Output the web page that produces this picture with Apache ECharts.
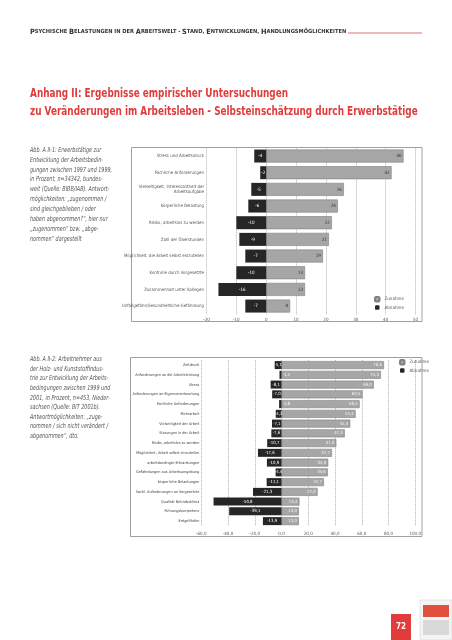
<!DOCTYPE html>
<html><head><meta charset="utf-8">
<script src="https://cdn.jsdelivr.net/npm/echarts/dist/echarts.min.js"></script>
<style>html,body{margin:0;padding:0;background:#fff}#c{width:452px;height:640px}</style>
</head><body><div id="c"></div>
<script>
// ---------- Chart 1 data ----------
const cats1 = [
  'Stress und Arbeitsdruck',
  'Fachliche Anforderungen',
  'Vielseitigkeit, Interessantheit der\nArbeitsaufgabe',
  'Körperliche Belastung',
  'Risiko, arbeitslos zu werden',
  'Zahl der Überstunden',
  'Möglichkeit, die Arbeit selbst einzuteilen',
  'Kontrolle durch Vorgesetzte',
  'Zusammenhalt unter Kollegen',
  'Unfallgefahr/Gesundheitliche Gefährdung'
];
const inc1 = [46, 42, 26, 24, 22, 21, 19, 13, 13, 8];
const dec1 = [-4, -2, -5, -6, -10, -9, -7, -10, -16, -7];
const axis1Min = -20, axis1Max = 50, axis1Step = 10;

// ---------- Chart 2 data ----------
const cats2 = [
  'Zeitdruck',
  'Anforderungen an die Arbeitsleistung',
  'Stress',
  'Anforderungen an Eigenverantwortung',
  'Fachliche Anforderungen',
  'Mehrarbeit',
  'Vielseitigkeit der Arbeit',
  'Störungen in der Arbeit',
  'Risiko, arbeitslos zu werden',
  'Möglichkeit, Arbeit selbst einzuteilen',
  'arbeitsbedingte Erkrankungen',
  'Gefährdungen aus Arbeitsumgebung',
  'körperliche Belastungen',
  'Sachl. Anforderungen an Vorgesetzte',
  'Qualität Betriebsklima',
  'Führungskompetenz',
  'Entgelthöhe'
];
const inc2 = [76.6, 74.3, 69.0, 60.5, 58.4, 55.4, 51.4, 47.3, 41.0, 37.7, 34.9, 34.6, 31.7, 27.0, 13.4, 13.0, 13.0];
const dec2 = [-5.1, -1.5, -8.1, -7.0, -1.8, -4.3, -7.1, -7.6, -10.7, -17.6, -10.9, -4.4, -11.1, -21.3, -50.8, -39.1, -13.9];
const axis2Min = -60, axis2Max = 100, axis2Step = 20;

// ---------- helpers ----------
const comma = v => v.toFixed(1).replace('.', ',');
function smallCaps(s){
  let out = '', cur = null, buf = '';
  for (const ch of s){
    const t = (ch !== ch.toLowerCase()) ? 'b' : 's';
    if (t !== cur){ if (buf) out += '{' + cur + '|' + buf + '}'; buf = ''; cur = t; }
    buf += ch.toUpperCase();
  }
  if (buf) out += '{' + cur + '|' + buf + '}';
  return out;
}
const NARROW = "'Liberation Sans Narrow','DejaVu Sans Condensed','Roboto',sans-serif";
const GRAY = '#a6a6a6', GRAYB = '#7f7f7f', DARK = '#262626';

const chart = echarts.init(document.getElementById('c'), null, {renderer:'canvas'});

const catAxis = (idx, data, margin, color, fs) => ({
  type:'category', gridIndex: idx, data, inverse:true,
  axisLine:{show:false}, axisTick:{show:false},
  axisLabel:{fontSize:fs, lineHeight:5.5, color, margin, fontFamily:NARROW}
});
const valAxis = (idx, min, max, step, fmt, margin) => ({
  type:'value', gridIndex: idx, min, max, interval: step,
  axisLine:{show:false}, axisTick:{show:false},
  splitLine:{show:true, lineStyle:{type:'dotted', color:'#b0b0b0', width:1}},
  axisLabel:{fontSize:4.5, color:'#595959', margin, fontFamily:NARROW, formatter: fmt}
});

const option = {
  animation:false,
  grid:[
    {left:206.5, width:209, top:147.7, height:166.7, containLabel:false},
    {left:201.25, width:214, top:360.2, height:165.8, containLabel:false}
  ],
  xAxis:[
    valAxis(0, axis1Min, axis1Max, axis1Step, v => String(v), 3),
    valAxis(1, axis2Min, axis2Max, axis2Step, v => comma(v), 5)
  ],
  yAxis:[
    catAxis(0, cats1, 2.5, '#595959', 4.4),
    catAxis(1, cats2, 2, '#404040', 3.8)
  ],
  legend:[
    {data:['Zunahme','Abnahme'], orient:'vertical', left:374, top:296, itemWidth:4.5, itemHeight:4.5, itemGap:2.5, padding:0,
     textStyle:{fontSize:4.5, color:'#595959', fontFamily:NARROW}, selectedMode:false},
    {data:['Zunahme','Abnahme'], orient:'vertical', left:399, top:359, itemWidth:4.5, itemHeight:4.5, itemGap:2.5, padding:0,
     textStyle:{fontSize:4.5, color:'#595959', fontFamily:NARROW}, selectedMode:false}
  ],
  series:[
    {name:'Zunahme', type:'bar', xAxisIndex:0, yAxisIndex:0, data:inc1, barWidth:13, barGap:'-100%',
     itemStyle:{color:GRAY, borderColor:GRAYB, borderWidth:0.6},
     label:{show:true, position:'insideRight', fontSize:4.5, color:'#333', fontFamily:NARROW, distance:2}},
    {name:'Abnahme', type:'bar', xAxisIndex:0, yAxisIndex:0, data:dec1, barWidth:13, barGap:'-100%',
     itemStyle:{color:DARK},
     label:{show:true, position:'inside', fontSize:4.5, color:'#fff', fontFamily:NARROW}},
    {name:'Zunahme', type:'bar', xAxisIndex:1, yAxisIndex:1, data:inc2, barWidth:8, barGap:'-100%',
     itemStyle:{color:GRAY, borderColor:GRAYB, borderWidth:0.6},
     label:{show:true, position:'insideRight', fontSize:4.3, color:'#f4f4f4', fontFamily:NARROW, distance:2,
            formatter: p => comma(p.value)}},
    {name:'Abnahme', type:'bar', xAxisIndex:1, yAxisIndex:1, barWidth:8, barGap:'-100%',
     data: dec2.map(v => Math.abs(v) < 3 ? {value:v, label:{position:'right', distance:1}} : v),
     itemStyle:{color:DARK},
     label:{show:true, position:'inside', fontSize:4.3, color:'#fff', fontFamily:NARROW,
            formatter: p => comma(p.value)}}
  ],
  graphic:[
    // header
    {type:'text', x:30, y:31.8, scaleX:1.02, style:{text: smallCaps('Psychische Belastungen in der Arbeitswelt - Stand, Entwicklungen, Handlungsmöglichkeiten'),
      verticalAlign:'middle', fill:'#333', rich:{
        b:{fontSize:7.2, fontWeight:'bold', fontFamily:NARROW, fill:'#333'},
        s:{fontSize:5.6, fontWeight:'bold', fontFamily:NARROW, fill:'#333'}}}},
    {type:'line', shape:{x1:348, y1:33, x2:422, y2:33}, style:{stroke:'#e07070', lineWidth:1}},
    // title
    {type:'text', x:30, y:93.3, scaleX:0.79, style:{text:'Anhang II: Ergebnisse empirischer Untersuchungen', verticalAlign:'middle',
      fontSize:12.5, fontWeight:'bold', fontFamily:NARROW, fill:'#e03c3c'}},
    {type:'text', x:30, y:111.7, scaleX:0.79, style:{text:'zu Veränderungen im Arbeitsleben - Selbsteinschätzung durch Erwerbstätige', verticalAlign:'middle',
      fontSize:12.5, fontWeight:'bold', fontFamily:NARROW, fill:'#e03c3c'}},
    // captions
    {type:'text', x:30, y:145, scaleX:0.77, style:{text:[
      'Abb. A II-1: Erwerbstätige zur',
      'Entwicklung der Arbeitsbedin-',
      'gungen zwischen 1997 und 1999,',
      'in Prozent, n=34342, bundes-',
      'weit (Quelle: BIBB/IAB). Antwort-',
      'möglichkeiten: „zugenommen /',
      'sind gleichgeblieben / oder',
      'haben abgenommen?“, hier nur',
      '„zugenommen“ bzw. „abge-',
      'nommen“ dargestellt'].join('\n'),
      verticalAlign:'top', fontSize:7, lineHeight:9.9, fontStyle:'italic', fontFamily:NARROW, fill:'#555'}},
    {type:'text', x:30, y:354.5, scaleX:0.77, style:{text:[
      'Abb. A II-2: Arbeitnehmer aus',
      'der Holz- und Kunststoffindus-',
      'trie zur Entwicklung der Arbeits-',
      'bedingungen zwischen 1999 und',
      '2001, in Prozent, n=453, Nieder-',
      'sachsen (Quelle: BIT 2001b).',
      'Antwortmöglichkeiten: „zuge-',
      'nommen / sich nicht verändert /',
      'abgenommen“, dto.'].join('\n'),
      verticalAlign:'top', fontSize:7, lineHeight:9.6, fontStyle:'italic', fontFamily:NARROW, fill:'#555'}},
    // chart frames
    {type:'rect', shape:{x:131.5, y:147.5, width:290.5, height:174}, style:{fill:'none', stroke:'#a0a0a0', lineWidth:1}, z:-1},
    {type:'rect', shape:{x:130.5, y:357.5, width:291.5, height:179}, style:{fill:'none', stroke:'#a0a0a0', lineWidth:1}, z:-1},
    // page number
    {type:'rect', shape:{x:391, y:614, width:20, height:26}, style:{fill:'#e03c3c'}},
    {type:'text', x:401, y:627, style:{text:'72', align:'center', verticalAlign:'middle', fontSize:8, fontWeight:'bold', fontFamily:NARROW, fill:'#fff'}},
    // small logo at bottom right
    {type:'rect', shape:{x:420, y:600, width:32, height:40}, style:{fill:'#f4f4f4', stroke:'#ccc', lineWidth:0.5}},
    {type:'rect', shape:{x:423, y:605, width:26, height:12}, style:{fill:'#e0503c'}},
    {type:'rect', shape:{x:423, y:620, width:26, height:15}, style:{fill:'#d9d9d9'}}
  ]
};
chart.setOption(option);
</script>
</body></html>
